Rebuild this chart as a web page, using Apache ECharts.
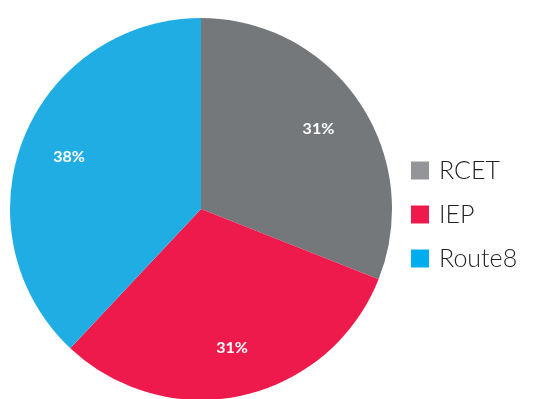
<!DOCTYPE html>
<html>
<head>
<meta charset="utf-8">
<script src="https://cdn.jsdelivr.net/npm/echarts@6/dist/echarts.min.js"></script>
<style>
  html, body { margin: 0; padding: 0; background: #ffffff; }
  #chart { width: 536px; height: 399px; }
</style>
</head>
<body>
<div id="chart"></div>
<script>
// Share of participants by program
const categories = ['RCET', 'IEP', 'Route8'];
const values = [31, 31, 38];
const sliceColors = ['#75787b', '#ed1a4b', '#20ade3'];
const legendColors = ['#939598', '#ed1a4b', '#00aeef'];

const center = [201, 209];
const outerR = 191;
const labelRingInner = 87; // puts "inside" labels at ~0.72 of the radius

const sliceData = categories.map((name, i) => ({
  name: name,
  value: values[i],
  itemStyle: { color: sliceColors[i] }
}));

const chart = echarts.init(document.getElementById('chart'), null, { renderer: 'canvas' });
chart.setOption({
  animation: false,
  legend: {
    orient: 'vertical',
    left: 411,
    top: 158,
    padding: 0,
    itemWidth: 18,
    itemHeight: 18,
    itemGap: 19,
    icon: 'rect',
    selectedMode: false,
    textStyle: {
      fontFamily: 'Lato',
      fontWeight: 300,
      fontSize: 25,
      lineHeight: 20,
      color: '#231f20',
      padding: [0, 0, 0, 5]
    },
    data: categories.map((name, i) => ({
      name: name,
      itemStyle: { color: legendColors[i] }
    }))
  },
  series: [
    {
      type: 'pie',
      center: center,
      radius: outerR,
      startAngle: 90,
      clockwise: true,
      silent: true,
      label: { show: false },
      labelLine: { show: false },
      data: sliceData
    },
    {
      // transparent ring that carries the percentage labels
      type: 'pie',
      center: center,
      radius: [labelRingInner, outerR],
      startAngle: 90,
      clockwise: true,
      silent: true,
      itemStyle: { color: 'rgba(0,0,0,0)' },
      label: {
        show: true,
        position: 'inside',
        formatter: '{c}%',
        color: '#ffffff',
        fontFamily: 'Lato',
        fontWeight: 'bold',
        fontSize: 16
      },
      labelLine: { show: false },
      data: categories.map((name, i) => ({ name: name, value: values[i] }))
    }
  ]
});
</script>
</body>
</html>
